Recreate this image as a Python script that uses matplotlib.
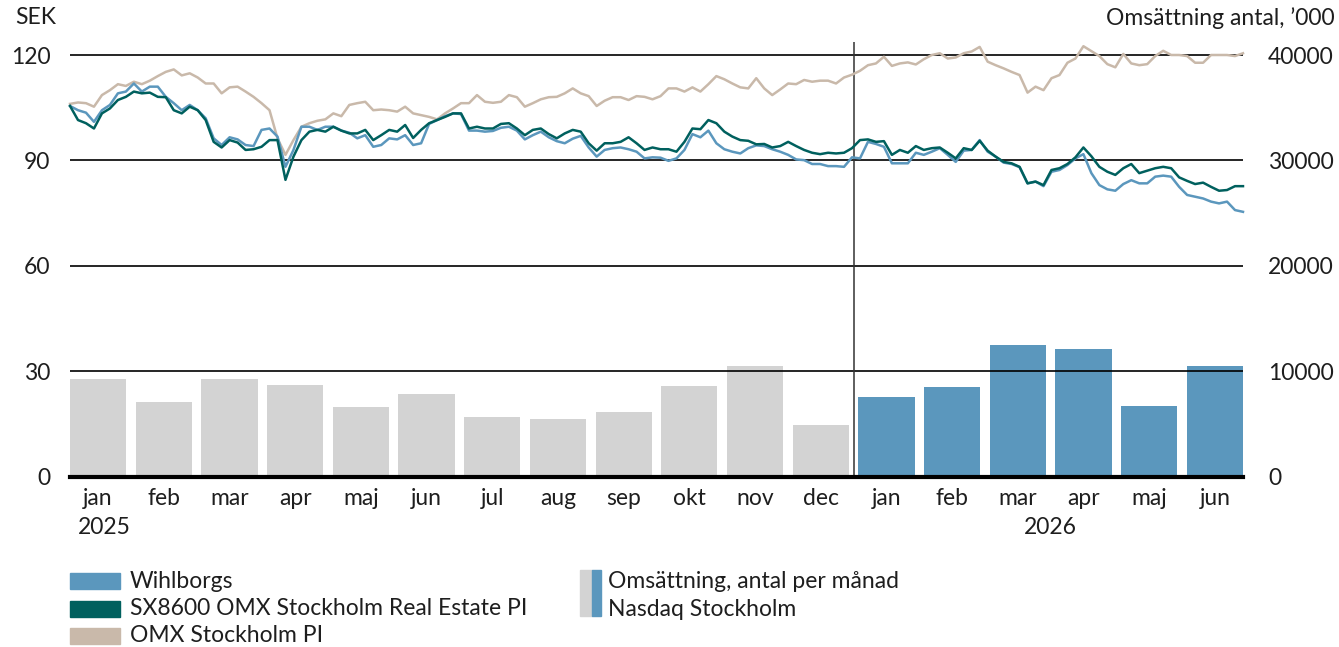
import numpy as np
import matplotlib
matplotlib.use("Agg")
import matplotlib.pyplot as plt
from matplotlib.patches import Rectangle

plt.rcParams['font.family'] = ['Lato', 'DejaVu Sans']
FS = 16.5

# monthly turnover, number of shares ('000)
months = ['jan', 'feb', 'mar', 'apr', 'maj', 'jun', 'jul', 'aug', 'sep', 'okt', 'nov', 'dec',
          'jan', 'feb', 'mar', 'apr', 'maj', 'jun']
turnover = [9300, 7110, 9300, 8730, 6640, 7870, 5680, 5490, 6160, 8630, 10540, 4920,
            7590, 8540, 12540, 12160, 6730, 10540]
year_labels = ['2025', '2026']

# price series (SEK), jan 2025 - jun 2026, roughly every 2-3 trading days
omx = [106.1, 106.5, 106.3, 105.3, 108.6, 110.0, 111.7, 111.2, 112.4, 111.7, 112.7, 114.0,
       115.2, 115.9, 114.2, 114.8, 113.6, 111.9, 111.9, 109.1, 110.8, 111.0, 109.6, 108.1,
       106.3, 104.3, 96.3, 91.6, 95.8, 99.6, 100.6, 101.3, 101.7, 103.4, 102.6, 105.8,
       106.3, 106.7, 104.3, 104.5, 104.3, 103.9, 105.3, 103.4, 102.9, 102.4, 101.7, 103.4, 104.8,
       106.3, 106.3, 108.6, 106.7, 106.4, 106.7, 108.6, 108.0, 105.3, 106.3, 107.4, 108.0,
       108.1, 109.1, 110.5, 109.1, 108.3, 105.5, 107.0, 108.0, 108.0, 107.2, 108.3, 108.1,
       107.4, 108.3, 110.5, 110.5, 109.6, 110.8, 109.6, 111.7, 114.0, 113.1, 111.9, 110.8,
       110.5, 113.4, 110.5, 108.6, 110.2, 111.9, 111.7, 112.9, 112.4, 112.7, 112.7, 111.9,
       113.6, 114.4, 115.5, 117.1, 117.6, 119.5, 116.9, 117.6, 117.9, 117.3, 118.8, 120.0,
       120.5, 119.0, 119.3, 120.5, 121.0, 122.3, 118.1, 117.1, 116.2, 115.2, 114.3, 109.3, 111.0,
       110.0, 113.4, 114.3, 117.8, 119.0, 122.5, 121.1, 119.7, 117.4, 116.5, 120.3, 117.6,
       117.1, 117.4, 119.7, 121.2, 120.0, 120.0, 119.7, 117.8, 117.8, 120.0, 120.0, 120.0,
       119.7, 120.5]
wihlborgs = [105.5, 104.3, 103.6, 101.0, 104.3, 105.8, 109.1, 109.6, 111.9, 109.6, 111.0, 111.0,
             108.1, 106.3, 104.3, 105.8, 104.3, 102.0, 96.3, 94.4, 96.6, 96.0, 94.4, 94.1,
             98.7, 99.1, 96.8, 88.2, 93.0, 99.6, 99.6, 98.7, 99.6, 99.6, 98.5, 97.9,
             96.3, 97.2, 93.9, 94.4, 96.3, 96.0, 97.2, 94.4, 94.9, 100.4, 101.5, 102.6, 103.4,
             103.2, 98.5, 98.5, 98.2, 98.4, 99.3, 99.6, 98.5, 96.0, 97.2, 98.2, 96.6,
             95.5, 94.9, 96.2, 97.0, 93.7, 91.1, 93.0, 93.5, 93.7, 93.2, 92.5, 90.6,
             90.9, 90.8, 89.9, 90.6, 93.0, 97.5, 96.6, 98.5, 94.9, 93.2, 92.5, 92.0,
             93.5, 94.3, 94.1, 93.2, 92.5, 91.6, 90.3, 90.1, 89.0, 89.0, 88.4, 88.4,
             88.2, 90.9, 90.6, 95.3, 94.7, 93.9, 89.2, 89.2, 89.2, 92.2, 91.6, 92.5,
             93.5, 91.6, 89.6, 92.8, 93.0, 95.8, 92.5, 91.1, 89.4, 89.0, 88.1, 83.5, 84.0,
             82.7, 86.8, 87.3, 88.7, 90.6, 91.8, 86.4, 83.0, 81.8, 81.4, 83.3, 84.4,
             83.5, 83.5, 85.4, 85.7, 85.4, 82.5, 80.2, 79.7, 79.2, 78.3, 77.8, 78.3,
             75.9, 75.4]
sx8600 = [105.5, 101.5, 100.6, 99.1, 103.4, 104.8, 107.2, 108.1, 109.6, 109.1, 109.3, 108.1,
          108.0, 104.3, 103.4, 105.3, 104.3, 101.5, 95.3, 93.7, 95.8, 95.1, 93.0, 93.2,
          93.9, 95.8, 95.8, 84.5, 91.1, 95.8, 98.2, 98.7, 98.2, 99.6, 98.5, 97.7,
          97.7, 98.7, 95.8, 97.2, 98.7, 98.2, 100.1, 96.4, 98.7, 100.6, 101.5, 102.4, 103.4,
          103.4, 99.1, 99.6, 99.1, 99.1, 100.4, 100.6, 99.1, 97.2, 98.7, 99.1, 97.5,
          96.3, 97.7, 98.7, 98.2, 94.9, 92.8, 94.9, 94.9, 95.3, 96.6, 94.9, 93.0,
          93.7, 93.2, 93.2, 92.5, 95.3, 99.1, 98.9, 101.5, 100.6, 98.2, 96.8, 95.8,
          95.6, 94.6, 94.7, 93.7, 94.1, 95.3, 94.1, 93.0, 92.2, 91.8, 92.2, 92.0,
          92.2, 93.5, 95.8, 96.0, 95.3, 95.5, 91.6, 93.0, 92.2, 94.1, 93.0, 93.5,
          93.7, 92.2, 90.6, 93.5, 93.0, 95.6, 92.8, 91.1, 89.6, 89.2, 88.2, 83.5, 84.0,
          83.0, 87.3, 87.8, 89.0, 90.9, 93.7, 91.2, 88.2, 86.8, 85.9, 87.8, 89.0,
          86.4, 87.1, 87.8, 88.2, 87.8, 85.2, 84.2, 83.3, 83.7, 82.5, 81.4, 81.6,
          82.7, 82.7]

c_wihl = '#5B97BD'
c_sx = '#00605E'
c_omx = '#C9B9AA'
c_grey = '#D3D3D3'
c_text = '#1E1E1E'

fig = plt.figure(figsize=(13.39, 6.47), dpi=100)
ax = fig.add_axes([0.0523, 0.2628, 0.876, 0.6723])
ax2 = ax.twinx()

bw = 0.855
xpos = np.arange(len(months))
bar_cols = [c_grey] * 12 + [c_wihl] * 6
ax.bar(xpos, turnover, width=bw, color=bar_cols, zorder=1)

top_sek = 123.7
ax.set_xlim(-bw / 2, len(months) - 1 + bw / 2)
ax.set_ylim(0, top_sek * 10000 / 30)
ax2.set_ylim(0, top_sek)

# lines on the SEK axis
xl = np.linspace(-bw / 2, len(months) - 1 + bw / 2, len(omx))
for yv in [30, 60, 90, 120]:
    ax2.axhline(yv, color='black', lw=1.2, zorder=1)
ax2.axhline(0, color='black', lw=3, zorder=5, clip_on=False)
ax2.axvline(11.5, color='#333333', lw=1.1, zorder=1)
ax2.plot(xl, omx, color=c_omx, lw=1.8, zorder=2, clip_on=False)
ax2.plot(xl, wihlborgs, color=c_wihl, lw=1.8, zorder=3, clip_on=False)
ax2.plot(xl, sx8600, color=c_sx, lw=1.8, zorder=4, clip_on=False)

for a in (ax, ax2):
    for s in a.spines.values():
        s.set_visible(False)

ax.yaxis.tick_right()
ax.set_yticks([0, 10000, 20000, 30000, 40000])
ax.set_yticklabels(['0', '10000', '20000', '30000', '40000'])
ax.tick_params(axis='y', length=0, pad=18, labelsize=FS, labelcolor=c_text)
ax2.yaxis.tick_left()
ax2.set_yticks([0, 30, 60, 90, 120])
ax2.tick_params(axis='y', length=0, pad=14, labelsize=FS, labelcolor=c_text)
ax.set_xticks(xpos)
ax.set_xticklabels(months)
ax.tick_params(axis='x', length=0, pad=8, labelsize=FS, labelcolor=c_text)

ax.text(0.1, -0.117, year_labels[0], transform=ax.get_xaxis_transform(),
        ha='center', va='center', fontsize=FS, color=c_text)
ax.text(14.5, -0.117, year_labels[1], transform=ax.get_xaxis_transform(),
        ha='center', va='center', fontsize=FS, color=c_text)

fig.text(15 / 1339, 1 - 18 / 647, 'SEK', ha='left', va='center', fontsize=FS, color=c_text)
fig.text(1335 / 1339, 1 - 18 / 647, 'Omsättning antal, ’000', ha='right', va='center',
         fontsize=FS, color=c_text)

# legend
W, H = 1339, 647
names = ['Wihlborgs', 'SX8600 OMX Stockholm Real Estate PI', 'OMX Stockholm PI']
cols = [c_wihl, c_sx, c_omx]
for i, (nm, cl) in enumerate(zip(names, cols)):
    yc = 581 + i * 27.5
    fig.patches.append(Rectangle((70 / W, 1 - (yc + 8) / H), 50 / W, 16 / H,
                                 transform=fig.transFigure, color=cl))
    fig.text(130 / W, 1 - yc / H, nm, ha='left', va='center', fontsize=FS, color=c_text)
fig.patches.append(Rectangle((580 / W, 1 - 616 / H), 12 / W, 46 / H,
                             transform=fig.transFigure, color=c_grey))
fig.patches.append(Rectangle((592 / W, 1 - 616 / H), 9 / W, 46 / H,
                             transform=fig.transFigure, color=c_wihl))
fig.text(608 / W, 1 - 581 / H, 'Omsättning, antal per månad', ha='left', va='center',
         fontsize=FS, color=c_text)
fig.text(608 / W, 1 - 609 / H, 'Nasdaq Stockholm', ha='left', va='center',
         fontsize=FS, color=c_text)

fig.savefig('out.png', dpi=100)
